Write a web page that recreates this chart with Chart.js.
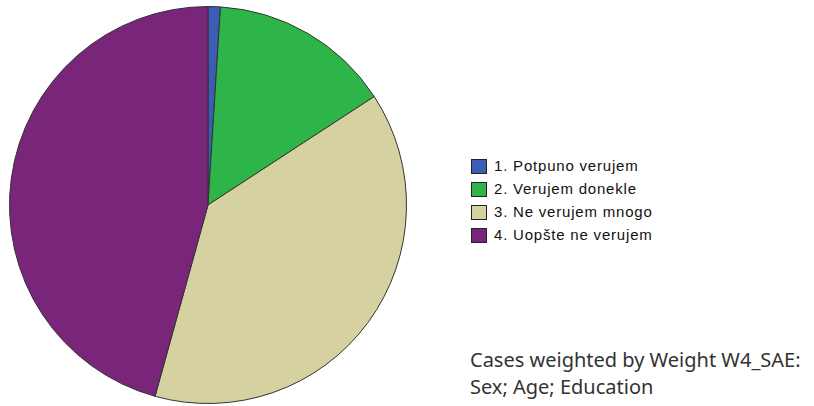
<!DOCTYPE html>
<html>
<head>
<meta charset="utf-8">
<script src="https://cdn.jsdelivr.net/npm/chart.js@4.4.0/dist/chart.umd.min.js"></script>
<style>
  html, body { margin: 0; padding: 0; background: #fff; }
  #wrap { position: relative; width: 814px; height: 406px; overflow: hidden; }
  #pieBox { position: absolute; left: 0; top: 0; width: 416px; height: 406px; }
  #legend { position: absolute; left: 471px; top: 158px; font-family: "Liberation Sans", Arial, sans-serif; font-size: 15px; color: #111; }
  .item { height: 23px; display: flex; align-items: flex-start; }
  .sw { width: 14px; height: 13px; border: 1px solid #222; margin-right: 7px; margin-top: 1px; }
  .lbl { line-height: 16px; letter-spacing: 0.8px; }
  #note { position: absolute; left: 470px; top: 346px; font-family: "Noto Sans", "Open Sans", sans-serif; font-size: 20px; line-height: 27px; color: #333; }
</style>
</head>
<body>
<div id="wrap">
  <div id="pieBox"><canvas id="pieChart"></canvas></div>
  <div id="legend"></div>
  <div id="note">Cases weighted by Weight W4_SAE:<br>Sex; Age; Education</div>
</div>
<script>
// answer categories and shares (percent)
const categories = ['1. Potpuno verujem', '2. Verujem donekle', '3. Ne verujem mnogo', '4. Uopšte ne verujem'];
const shares = [1.0, 14.8, 38.5, 45.7];
const sliceColors = ['#3D5CB4', '#2EB54A', '#D6D1A1', '#79257A'];

const ctx = document.getElementById('pieChart').getContext('2d');
new Chart(ctx, {
    type: 'pie',
    data: {
        labels: categories,
        datasets: [{
            data: shares,
            backgroundColor: sliceColors,
            borderColor: '#333',
            borderWidth: 1
        }]
    },
    options: {
        responsive: true,
        maintainAspectRatio: false,
        animation: false,
        layout: {
            padding: { top: 6, bottom: 2, left: 0, right: 0 }
        },
        plugins: {
            legend: { display: false },
            tooltip: { enabled: false }
        }
    }
});

// legend built from the same arrays
const legend = document.getElementById('legend');
categories.forEach((name, i) => {
    const row = document.createElement('div');
    row.className = 'item';
    const sw = document.createElement('div');
    sw.className = 'sw';
    sw.style.background = sliceColors[i];
    const lbl = document.createElement('div');
    lbl.className = 'lbl';
    lbl.textContent = name;
    row.appendChild(sw);
    row.appendChild(lbl);
    legend.appendChild(row);
});
</script>
</body>
</html>
